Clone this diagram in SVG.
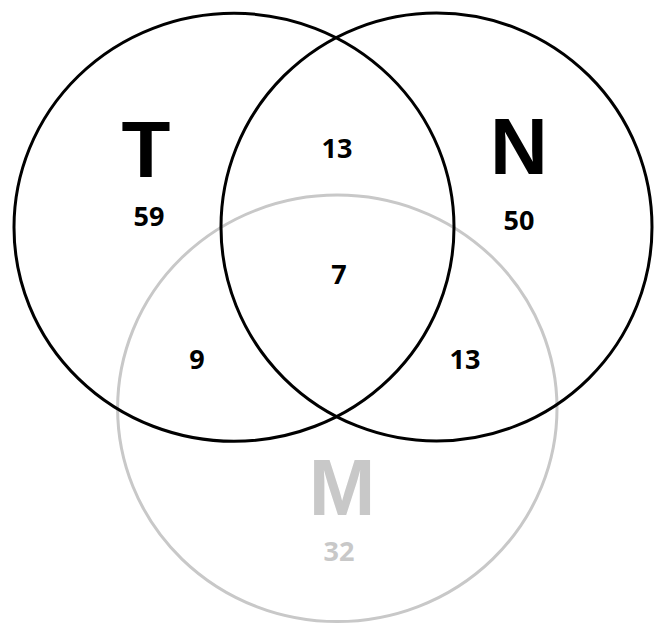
<svg xmlns="http://www.w3.org/2000/svg" width="654" height="624" viewBox="0 0 654 624">
<style>
.set{fill:none;stroke-width:3}
.blk{stroke:#000}
.gry{stroke:#c8c8c8}
.big{font-family:"Liberation Sans",Arial,sans-serif;font-weight:700;font-size:80px;text-anchor:middle}
.num{font-family:"Open Sans","Liberation Sans",sans-serif;font-weight:700;font-size:27px;text-anchor:middle;fill:#000}
</style>
<rect width="654" height="624" fill="#fff"/>
<g id="M">
<ellipse class="set gry" cx="337.3" cy="408.3" rx="219.7" ry="213.2"/>
<text class="big" x="342" y="515" fill="#c8c8c8">M</text>
<text class="num" x="339" y="561" style="fill:#c8c8c8">32</text>
</g>
<g id="T">
<ellipse class="set blk" cx="234" cy="227.3" rx="220" ry="214"/>
<text class="big" x="146" y="177" fill="#000">T</text>
<text class="num" x="149" y="226">59</text>
</g>
<g id="N">
<ellipse class="set blk" cx="436.5" cy="227" rx="215.5" ry="214"/>
<text class="big" x="519" y="174" fill="#000">N</text>
<text class="num" x="519" y="230">50</text>
</g>
<g id="regions">
<text class="num" x="337" y="158">13</text>
<text class="num" x="339" y="284">7</text>
<text class="num" x="197" y="369">9</text>
<text class="num" x="465" y="369">13</text>
</g>
<g id="connectors"></g>
</svg>
